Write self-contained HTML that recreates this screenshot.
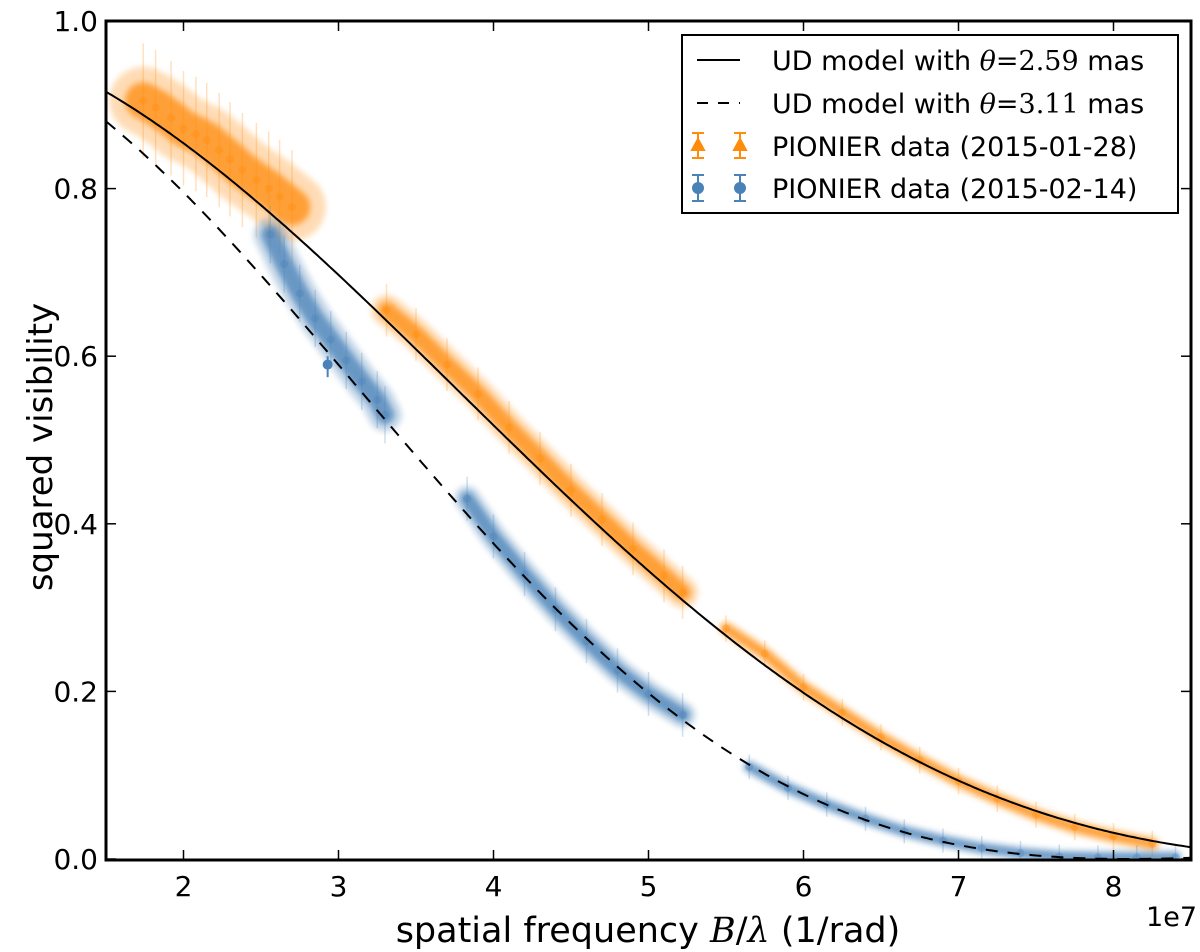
<!DOCTYPE html>
<html><head><meta charset="utf-8"><style>
body{margin:0;background:#fff;width:1200px;height:952px;overflow:hidden}
svg text{font-family:"DejaVu Sans","Liberation Sans",sans-serif;fill:#000}
</style></head><body>
<svg id="chart" width="1200" height="952" xmlns="http://www.w3.org/2000/svg" style="position:absolute;left:0;top:0">
<defs><clipPath id="clip"><rect x="106" y="21" width="1085" height="839"/></clipPath>
<filter id="soft" filterUnits="userSpaceOnUse" x="0" y="0" width="1200" height="952"><feGaussianBlur stdDeviation="3"/></filter></defs>
<g id="data" clip-path="url(#clip)"></g>
<g id="axes"></g>
</svg>
<script>
const xTicks=[2,3,4,5,6,7,8];
const yTicks=[0.0,0.2,0.4,0.6,0.8,1.0];
const thetas=[2.59,3.11];
const orangeF=[1.74,1.82,1.92,2.0,2.08,2.15,2.23,2.3,2.38,2.47,2.55,2.62,2.7, 3.31,3.5,3.7,3.9,4.1,4.3,4.5,4.7,4.9,5.1,5.22, 5.5,5.75,6.0,6.25,6.5,6.75,7.0,7.25,7.5,7.75,8.0,8.25];
const orangeV=[0.905,0.897,0.884,0.872,0.865,0.858,0.846,0.835,0.822,0.81,0.8,0.79,0.778, 0.655,0.626,0.59,0.555,0.515,0.478,0.44,0.405,0.37,0.338,0.318, 0.275,0.245,0.205,0.175,0.145,0.118,0.093,0.072,0.053,0.038,0.027,0.018];
const orangeGroups=[13,11,12];
const blueF=[2.56,2.65,2.75,2.85,2.95,3.05,3.15,3.25,3.3, 3.83,4.0,4.2,4.4,4.6,4.8,5.0,5.22, 5.65,5.9,6.15,6.4,6.65,6.9,7.15,7.4,7.65,7.9,8.15,8.4];
const blueV=[0.745,0.71,0.675,0.645,0.62,0.595,0.57,0.548,0.53, 0.43,0.385,0.34,0.298,0.26,0.225,0.197,0.172, 0.11,0.085,0.065,0.048,0.033,0.022,0.013,0.007,0.003,0.002,0.002,0.002];
const blueGroups=[9,8,12];

const X=f=>106+(f-1.5)*155;
const Y=v=>859-v*838;
const NS="http://www.w3.org/2000/svg";
function mk(tag,attrs,parent){const e=document.createElementNS(NS,tag);for(const k in attrs)e.setAttribute(k,attrs[k]);parent.appendChild(e);return e;}
const data=document.getElementById('data'), axes=document.getElementById('axes');

function J1(x){let s=0,t=x/2;for(let k=0;k<30;k++){s+=t;t*=-(x*x/4)/((k+1)*(k+2));}return s;}
function V2(f,th){const x=Math.PI*th*1e-3/206264.8*f*1e7;return Math.pow(2*J1(x)/x,2);}

function drawSeries(F,V,groups,color,widths,name){
  let i=0;
  groups.forEach((n,g)=>{
    const pts=[];for(let k=0;k<n;k++)pts.push(X(F[i+k]).toFixed(1)+','+Y(V[i+k]).toFixed(1));
    const band=mk('polyline',{points:pts.join(' '),fill:'none',stroke:color,'stroke-width':widths[g]*1.3,'stroke-linecap':'round','stroke-linejoin':'round',opacity:0.3,filter:'url(#soft)'},data);
    
    
    const core=mk('polyline',{points:pts.join(' '),fill:'none',stroke:color,'stroke-width':widths[g]*0.7,'stroke-linecap':'round','stroke-linejoin':'round',opacity:0.75,filter:'url(#soft)'},data);
    
    
    for(let k=0;k<n;k++){
      const x=X(F[i+k]),y=Y(V[i+k]),e=widths[g]*1.1;
      const eb=mk('line',{x1:x,y1:y-e,x2:x,y2:y+e,stroke:color,'stroke-width':1.5,opacity:0.25},data);
      
      
      const p=mk('circle',{cx:x,cy:y,r:4,fill:color,opacity:0.35},data);
      
      
    }
    i+=n;
  });
}
drawSeries(orangeF,orangeV,orangeGroups,'#ff8c0a',[52,24,12],'orange-data');
drawSeries(blueF,blueV,blueGroups,'#4a82b8',[26,20,11],'blue-data');
const hp=mk('circle',{cx:X(2.93),cy:Y(0.59),r:5,fill:'#4a82b8'},data);


mk('line',{x1:X(2.93),y1:Y(0.60),x2:X(2.93),y2:Y(0.575),stroke:'#4a82b8','stroke-width':2},data);

thetas.forEach((th,j)=>{
  const pts=[];for(let f=1.5;f<=8.5001;f+=0.02)pts.push(X(f).toFixed(1)+','+Y(V2(f,th)).toFixed(1));
  const c=mk('polyline',{points:pts.join(' '),fill:'none',stroke:'#000','stroke-width':2,'stroke-dasharray':j?'12,10':'none'},data);
  
  
});

const fr=mk('rect',{x:106,y:21,width:1085,height:839,fill:'none',stroke:'#000','stroke-width':3},axes);


xTicks.forEach(t=>{
  const x=X(t);
  mk('line',{x1:x,y1:860,x2:x,y2:850,stroke:'#000','stroke-width':1.5},axes);
  mk('line',{x1:x,y1:21,x2:x,y2:31,stroke:'#000','stroke-width':1.5},axes);
  const l=mk('text',{x:x,y:896,'font-size':28,'text-anchor':'middle'},axes);l.textContent=t;
  
  
});
yTicks.forEach(t=>{
  const y=Y(t);
  mk('line',{x1:106,y1:y,x2:116,y2:y,stroke:'#000','stroke-width':1.5},axes);
  mk('line',{x1:1191,y1:y,x2:1181,y2:y,stroke:'#000','stroke-width':1.5},axes);
  const l=mk('text',{x:98,y:y+10,'font-size':28,'text-anchor':'end'},axes);l.textContent=t.toFixed(1);
  
  
});
</script>
<svg style="position:absolute;left:0;top:0" width="1200" height="952" xmlns="http://www.w3.org/2000/svg">
<text x="648" y="942" font-size="35" text-anchor="middle" style="font-family:'DejaVu Sans',sans-serif">spatial frequency <tspan font-style="italic" style="font-family:'DejaVu Serif',serif">B</tspan>/<tspan font-style="italic" style="font-family:'DejaVu Serif',serif">λ</tspan> (1/rad)</text>
<text x="1197" y="926" font-size="27" text-anchor="end" style="font-family:'DejaVu Sans',sans-serif">1e7</text>
<text x="0" y="0" font-size="34" text-anchor="middle" transform="translate(52,447) rotate(-90)" style="font-family:'DejaVu Sans',sans-serif">squared visibility</text>
<g>
<rect x="682" y="35" width="496" height="178" fill="#fff" stroke="#000" stroke-width="2"/>
<line x1="697" y1="60" x2="740" y2="60" stroke="#000" stroke-width="2"/>
<line x1="697" y1="103" x2="740" y2="103" stroke="#000" stroke-width="2" stroke-dasharray="11,10"/>
<g stroke="#ff8c0a" stroke-width="2" fill="#ff8c0a">
<line x1="698" y1="133" x2="698" y2="158"/><line x1="692" y1="133" x2="704" y2="133"/><line x1="692" y1="158" x2="704" y2="158"/><polygon points="698,139 704,150 692,150"/>
<line x1="740" y1="133" x2="740" y2="158"/><line x1="734" y1="133" x2="746" y2="133"/><line x1="734" y1="158" x2="746" y2="158"/><polygon points="740,139 746,150 734,150"/>
</g>
<g stroke="#4a82b8" stroke-width="2" fill="#4a82b8">
<line x1="698" y1="175" x2="698" y2="201"/><line x1="692" y1="175" x2="704" y2="175"/><line x1="692" y1="201" x2="704" y2="201"/><circle cx="698" cy="188" r="5"/>
<line x1="740" y1="175" x2="740" y2="201"/><line x1="734" y1="175" x2="746" y2="175"/><line x1="734" y1="201" x2="746" y2="201"/><circle cx="740" cy="188" r="5"/>
</g>
<g font-size="27" style="font-family:'DejaVu Sans',sans-serif">
<text x="772" y="70">UD model with <tspan font-style="italic" style="font-family:'DejaVu Serif',serif">θ</tspan><tspan style="font-family:'DejaVu Serif',serif">=2.59</tspan> mas</text>
<text x="772" y="113">UD model with <tspan font-style="italic" style="font-family:'DejaVu Serif',serif">θ</tspan><tspan style="font-family:'DejaVu Serif',serif">=3.11</tspan> mas</text>
<text x="772" y="156">PIONIER data (2015-01-28)</text>
<text x="772" y="198">PIONIER data (2015-02-14)</text>
</g>
</g>
</svg>
</body></html>
